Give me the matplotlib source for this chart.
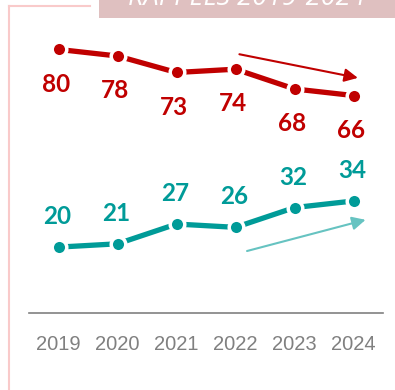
import matplotlib.pyplot as plt
from matplotlib.patches import Rectangle
from matplotlib.lines import Line2D

years = ['2019', '2020', '2021', '2022', '2023', '2024']
serie_haute = [80, 78, 73, 74, 68, 66]
serie_basse = [20, 21, 27, 26, 32, 34]
titre = 'RAPPELS 2019-2024'

# flèches de tendance (début, fin) en coordonnées de données
fleche_haute = ((3.02, 78.7), (5.12, 71.2))
fleche_basse = ((3.15, 18.6), (5.25, 28.5))

rouge = '#C00000'
sarcelle = '#009B98'
sarcelle_clair = '#66C3C1'

fig = plt.figure(figsize=(3.95, 3.90), dpi=100)
ax = fig.add_axes([29 / 395, 77 / 390, 354 / 395, 313 / 390])

x = list(range(len(years)))
for vals, col in [(serie_haute, rouge), (serie_basse, sarcelle)]:
    ax.plot(x, vals, color=col, lw=3.8, marker='o', ms=10.5,
            mfc=col, mec='white', mew=2.5, solid_capstyle='butt')

for i, v in enumerate(serie_haute):
    ax.annotate(str(v), (i, v), xytext=(-2, -25), textcoords='offset points',
                ha='center', va='center', fontsize=17.5, fontweight='bold',
                color=rouge, family='Lato')
for i, v in enumerate(serie_basse):
    ax.annotate(str(v), (i, v), xytext=(-1, 22), textcoords='offset points',
                ha='center', va='center', fontsize=17.5, fontweight='bold',
                color=sarcelle, family='Lato')

ax.annotate('', xy=fleche_haute[1], xytext=fleche_haute[0],
            arrowprops=dict(arrowstyle='-|>,head_length=0.8,head_width=0.4',
                            color=rouge, lw=1.5))
ax.annotate('', xy=fleche_basse[1], xytext=fleche_basse[0],
            arrowprops=dict(arrowstyle='-|>,head_length=0.8,head_width=0.4',
                            color=sarcelle_clair, lw=1.5))

ax.set_xlim(-0.5, 5.5)
ax.set_ylim(0, 95)
ax.set_xticks(x)
ax.set_xticklabels(years, fontsize=14.5, color='#808080', family='Liberation Sans')
ax.tick_params(axis='x', length=0, pad=16)
ax.set_yticks([])
for s in ['top', 'left', 'right']:
    ax.spines[s].set_visible(False)
ax.spines['bottom'].set_color('#808080')
ax.spines['bottom'].set_linewidth(1.2)
ax.patch.set_alpha(0)

# cadre rose et bandeau de titre
fig.add_artist(Line2D([9 / 395, 9 / 395], [0, 384 / 390], color='#F9CACA', lw=1.5))
fig.add_artist(Line2D([9 / 395, 90 / 395], [384 / 390, 384 / 390], color='#F9CACA', lw=1.5))
fig.add_artist(Rectangle((99 / 395, 372 / 390), 296 / 395, 18 / 390,
                         transform=fig.transFigure, color='#DFC0C0', lw=0))
fig.text(247 / 395, 385 / 390, titre, ha='center', va='baseline', color='white',
         fontsize=19.5, style='italic', family='Open Sans')

fig.savefig('out.png', dpi=100)
